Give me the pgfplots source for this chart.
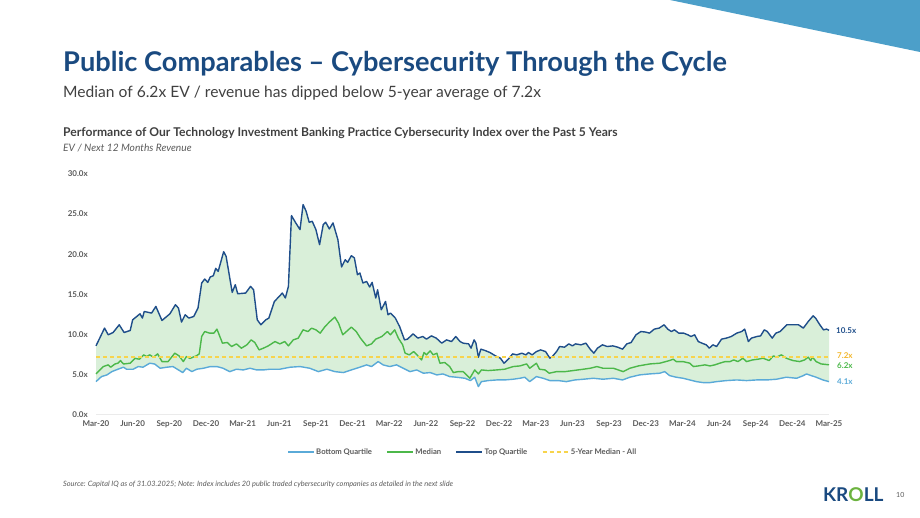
\documentclass[border=0pt]{standalone}
\usepackage{pgfplots}
\pgfplotsset{compat=1.18}
\usepgfplotslibrary{fillbetween}
\usepackage{pgfplotstable}
\usepackage{fontspec}
\setmainfont{Lato}

\definecolor{navy}{HTML}{1A4A80}
\definecolor{topq}{HTML}{1F4E8A}
\definecolor{medg}{HTML}{4CB84A}
\definecolor{botq}{HTML}{5AAAD8}
\definecolor{yel}{HTML}{F7D44C}
\definecolor{yellab}{HTML}{F2B62A}
\definecolor{fillg}{HTML}{D9EFD9}
\definecolor{tri}{HTML}{4C9FC9}
\definecolor{txt}{HTML}{404040}
\definecolor{tickc}{HTML}{5A5A5A}
\definecolor{krollO}{HTML}{6CB33F}

% EV / NTM revenue multiples, x = months since Mar-20
\pgfplotstableread{
m v
0 8.56
0.7 10.78
1.0 9.94
1.4 10.23
1.9 11.19
2.3 10.23
2.8 10.48
3.0 11.81
3.6 12.56
3.8 12.03
3.95 12.85
4.55 12.65
4.9 13.48
5.4 11.73
6.05 12.56
6.5 13.69
6.75 13.28
7.0 11.53
7.3 12.44
7.6 12.03
8.0 12.23
8.35 13.28
8.65 16.4
8.9 16.9
9.15 16.48
9.35 17.15
9.6 17.31
9.8 18.23
10.0 17.85
10.45 20.31
10.65 19.73
11.15 15.23
11.4 16.19
11.6 15.06
12.25 15.15
12.65 15.98
12.9 15.56
13.2 11.81
13.5 11.19
13.9 11.81
14.15 12.03
14.6 14.1
15.0 14.73
15.25 15.15
15.5 14.53
15.75 15.98
16.0 24.81
16.35 23.9
16.7 23.06
16.95 26.19
17.2 25.35
17.45 23.98
17.7 24.1
18.0 23.06
18.3 21.19
18.6 23.69
18.8 23.98
19.1 23.15
19.4 23.9
19.8 21.81
20.1 18.4
20.4 19.31
20.6 18.98
20.9 19.81
21.15 19.53
21.4 17.44
21.6 17.65
21.85 16.4
22.15 16.6
22.4 15.9
22.6 16.48
22.9 14.53
23.05 15.56
23.35 13.06
23.7 14.1
23.9 12.44
24.1 12.65
24.5 12.03
24.85 10.98
25.25 9.31
25.5 9.4
25.95 10.06
26.35 9.53
26.75 9.73
27.05 9.4
27.45 9.81
27.85 9.53
28.3 8.9
28.7 9.31
29.1 9.1
29.45 9.73
29.8 9.1
30.05 8.9
30.5 8.81
30.7 8.28
30.95 9.31
31.1 8.9
31.3 7.15
31.5 8.15
31.85 7.98
32.25 7.73
32.7 7.31
33.1 7.03
33.4 6.4
33.75 6.9
34.1 7.56
34.45 7.44
34.85 7.65
35.2 7.44
35.4 7.73
35.7 7.44
36.05 7.85
36.4 8.06
36.8 7.85
37.15 7.03
37.35 7.23
37.7 7.85
37.95 8.48
38.35 8.4
38.7 8.81
39.0 8.56
39.25 8.81
39.7 8.69
40.1 8.9
40.45 8.15
40.75 7.65
41.05 8.28
41.45 8.69
41.85 8.48
42.3 8.56
42.7 8.4
43.1 8.15
43.45 8.81
43.8 8.98
44.2 9.94
44.6 10.35
45.0 10.28
45.3 10.15
45.7 10.65
46.1 10.78
46.5 11.19
46.8 10.65
47.1 10.35
47.35 10.56
47.7 10.15
48.1 10.15
48.45 9.94
48.7 9.73
49.0 9.94
49.3 9.1
49.6 8.9
49.95 8.69
50.2 8.28
50.5 8.69
50.8 8.48
51.2 9.4
51.6 9.53
52.0 9.73
52.45 10.15
52.85 10.35
53.1 10.65
53.4 9.1
53.65 9.53
54.1 9.73
54.4 9.81
54.7 10.56
54.95 10.35
55.35 9.53
55.65 10.15
56.0 10.35
56.55 11.19
57.1 11.19
57.5 11.19
57.9 10.78
58.3 11.6
58.7 12.31
58.9 12.03
59.25 11.19
59.55 10.56
59.8 10.65
60 10.5
}\topquartile

\pgfplotstableread{
m v
0 5.06
0.6 5.98
1.0 6.19
1.2 5.9
1.55 6.3
1.8 6.4
2.0 6.73
2.25 6.3
2.8 6.4
3.2 7.0
3.55 6.9
3.9 7.44
4.15 7.23
4.4 7.44
4.7 7.15
5.05 7.56
5.4 6.6
5.9 6.6
6.45 7.65
6.8 7.31
7.15 6.6
7.4 7.23
7.7 7.0
8.2 7.31
8.45 7.56
8.65 9.73
8.9 10.35
9.3 10.15
9.65 10.15
9.9 10.65
10.35 8.9
10.75 8.98
11.1 8.48
11.5 8.81
11.9 8.27
12.35 8.69
12.7 9.31
13.0 8.98
13.35 8.06
13.7 8.27
14.1 8.56
14.65 9.1
15.05 8.81
15.45 9.1
15.75 8.56
16.15 9.31
16.55 9.52
16.95 10.56
17.35 10.35
17.65 10.77
18.0 10.56
18.35 10.15
18.75 10.98
19.15 11.6
19.55 12.15
19.85 11.4
20.2 9.94
20.5 10.35
20.9 10.9
21.3 10.35
21.65 9.52
22.15 8.56
22.55 8.81
22.9 9.4
23.4 9.73
23.85 10.35
24.1 9.94
24.45 10.56
24.75 9.52
25.1 8.69
25.3 7.65
25.65 7.44
26.0 7.85
26.35 7.31
26.65 6.81
26.85 7.73
27.05 7.44
27.35 7.94
27.6 7.44
27.9 7.65
28.15 6.4
28.55 6.48
28.95 5.98
29.25 5.23
29.65 5.35
30.05 5.35
30.6 4.52
31.0 5.56
31.3 5.06
31.55 5.56
32.1 5.48
32.8 5.56
33.45 5.65
34.15 5.98
34.7 6.06
35.25 6.31
35.5 5.77
36.05 6.4
36.3 5.65
36.75 5.56
37.1 5.15
37.7 5.35
38.4 5.35
39.05 5.48
39.9 5.65
40.45 5.77
41.0 5.98
41.5 5.77
42.35 5.77
43.15 5.35
43.7 5.77
44.4 6.06
45.35 6.31
46.15 6.4
46.95 6.73
47.25 6.9
47.5 6.6
48.05 6.6
48.6 6.4
48.9 5.98
49.3 6.06
49.85 6.19
50.25 6.06
50.65 6.19
51.05 6.4
51.5 6.6
51.9 6.6
52.2 6.81
52.55 6.6
52.95 7.02
53.25 6.6
53.75 6.81
54.2 6.9
54.6 7.02
55.1 6.73
55.45 7.31
55.7 7.15
56.1 7.44
56.5 7.02
57.05 6.73
57.6 6.6
58.0 6.81
58.3 7.15
58.5 6.73
58.65 7.15
58.95 6.6
59.35 6.31
60 6.2
}\mediantab

\pgfplotstableread{
m v
0 4.1
0.45 4.73
0.9 4.94
1.3 5.35
1.8 5.65
2.25 5.9
2.5 5.65
3.05 5.65
3.45 5.98
3.85 5.9
4.4 6.4
4.8 6.3
5.25 5.77
5.8 5.9
6.3 5.98
6.75 5.56
7.1 5.23
7.4 5.77
7.85 5.35
8.25 5.65
8.8 5.77
9.35 5.98
9.9 5.98
10.4 5.77
10.95 5.35
11.5 5.65
12.05 5.56
12.6 5.77
13.15 5.56
13.7 5.56
14.25 5.65
15.05 5.65
15.9 5.9
16.7 5.98
17.5 5.77
18.2 5.35
18.9 5.65
19.55 5.35
20.25 5.23
20.9 5.56
21.6 5.9
22.15 6.19
22.55 5.98
23.1 6.6
23.5 6.19
24.05 5.98
24.6 6.19
25.15 5.77
25.7 5.35
26.25 5.56
26.8 5.15
27.35 5.23
27.9 4.94
28.4 5.06
28.95 4.73
29.5 4.65
30.2 4.52
30.65 4.23
31.0 4.65
31.3 3.48
31.55 4.1
32.1 4.23
32.8 4.31
33.45 4.31
34.15 4.4
34.7 4.52
35.1 4.65
35.5 4.1
36.05 4.73
36.6 4.52
37.15 4.23
37.85 4.23
38.5 4.1
39.2 4.31
39.9 4.4
40.7 4.52
41.5 4.4
42.35 4.52
43.1 4.31
43.7 4.65
44.5 4.94
45.3 5.06
46.15 5.15
46.55 5.35
46.95 4.85
47.5 4.65
48.05 4.52
48.6 4.31
49.15 4.1
49.7 3.98
50.25 3.98
50.8 4.1
51.6 4.23
52.45 4.31
53.25 4.23
54.05 4.31
54.9 4.31
55.7 4.4
56.5 4.65
57.35 4.52
57.9 4.85
58.15 5.06
58.55 4.85
58.95 4.65
59.5 4.31
60 4.1
}\bottomquartile

\begin{document}
\begin{tikzpicture}
% page frame (kept unfilled so the layered band fill stays visible)
\path (0pt,0pt) rectangle (920pt,-518pt);
\fill[tri] (670pt,0pt) -- (920pt,0pt) -- (920pt,-52pt) -- cycle;

% headings
\node[anchor=base west, inner sep=0pt, text=navy, font=\fontsize{27.2}{31}\selectfont\bfseries]
  at (63pt,-72pt) {Public Comparables – Cybersecurity Through the Cycle};
\node[anchor=base west, inner sep=0pt, text=txt, font=\fontsize{15.6}{18}\selectfont]
  at (63pt,-98pt) {Median of 6.2x EV / revenue has dipped below 5-year average of 7.2x};
\node[anchor=base west, inner sep=0pt, text=txt, font=\fontsize{12.1}{13}\selectfont\bfseries]
  at (63pt,-137pt) {Performance of Our Technology Investment Banking Practice Cybersecurity Index over the Past 5 Years};
\node[anchor=base west, inner sep=0pt, text=tickc, font=\fontsize{10.2}{11}\selectfont\itshape]
  at (63pt,-152pt) {EV / Next 12 Months Revenue};

\begin{axis}[
  at={(96pt,-414.5pt)}, anchor=south west,
  scale only axis, width=733pt, height=240.5pt,
  xmin=0, xmax=60, ymin=0, ymax=30,
  clip=false,
  axis lines=left,
  x axis line style={draw=black!8, line width=1.2pt, -},
  y axis line style={draw=none},
  major tick length=0pt,
  xtick={0,3,...,60},
  xticklabels={Mar-20,Jun-20,Sep-20,Dec-20,Mar-21,Jun-21,Sep-21,Dec-21,Mar-22,Jun-22,Sep-22,Dec-22,Mar-23,Jun-23,Sep-23,Dec-23,Mar-24,Jun-24,Sep-24,Dec-24,Mar-25},
  ytick={0,5,...,30},
  yticklabels={0.0x,5.0x,10.0x,15.0x,20.0x,25.0x,30.0x},
  xticklabel style={font=\fontsize{8}{9}\selectfont\bfseries, text=tickc, anchor=north, inner sep=0pt, yshift=-6pt},
  yticklabel style={font=\fontsize{8}{9}\selectfont\bfseries, text=tickc, anchor=east, inner sep=0pt, xshift=-8pt},
  legend columns=4,
  legend style={at={(0.5,-0.156)}, anchor=center, draw=none, fill=none,
    font=\fontsize{7.7}{9}\selectfont\bfseries, text=tickc,
    /tikz/every even column/.append style={column sep=13pt},
    nodes={inner sep=1.5pt}},
  legend image code/.code={\draw[#1] (0pt,0pt) -- (26pt,0pt);},
]
\addplot[draw=none, name path=upper, forget plot] table[x=m, y=v] {\topquartile};
\addplot[draw=none, name path=lower, forget plot] table[x=m, y=v] {\bottomquartile};
\addplot[fill=fillg, draw=none, forget plot] fill between[of=upper and lower];

\addplot[botq, line width=1.4pt, line join=round] table[x=m, y=v] {\bottomquartile};
\addlegendentry{Bottom Quartile}
\addplot[medg, line width=1.4pt, line join=round] table[x=m, y=v] {\mediantab};
\addlegendentry{Median}
\addplot[topq, line width=1.4pt, line join=round] table[x=m, y=v] {\topquartile};
\addlegendentry{Top Quartile}
\addplot[yel, line width=1.5pt, dash pattern=on 4pt off 3pt] coordinates {(0,7.2) (60,7.2)};
\addlegendentry{5-Year Median - All}

% closing values
\node[anchor=west, inner sep=0pt, text=topq, font=\fontsize{8}{9}\selectfont\bfseries] at (axis cs:60,10.5) [xshift=7pt] {10.5x};
\node[anchor=west, inner sep=0pt, text=yellab, font=\fontsize{8}{9}\selectfont\bfseries] at (axis cs:60,7.3) [xshift=8pt] {7.2x};
\node[anchor=west, inner sep=0pt, text=medg, font=\fontsize{8}{9}\selectfont\bfseries] at (axis cs:60,6.05) [xshift=8pt] {6.2x};
\node[anchor=west, inner sep=0pt, text=botq, font=\fontsize{8}{9}\selectfont\bfseries] at (axis cs:60,4.1) [xshift=8pt] {4.1x};
\end{axis}

% footer
\node[anchor=base west, inner sep=0pt, text=tickc, font=\fontsize{7.35}{8}\selectfont\itshape]
  at (63pt,-486pt) {Source: Capital IQ as of 31.03.2025; Note: Index includes 20 public traded cybersecurity companies as detailed in the next slide};
\node[anchor=base west, inner sep=0pt, text=navy, font=\fontsize{19}{20}\selectfont\bfseries]
  at (823pt,-501pt) {KR\textcolor{krollO}{O}LL};
\node[anchor=base west, inner sep=0pt, text=tickc, font=\fontsize{7}{8}\selectfont]
  at (896pt,-497pt) {10};
\end{tikzpicture}
\end{document}
